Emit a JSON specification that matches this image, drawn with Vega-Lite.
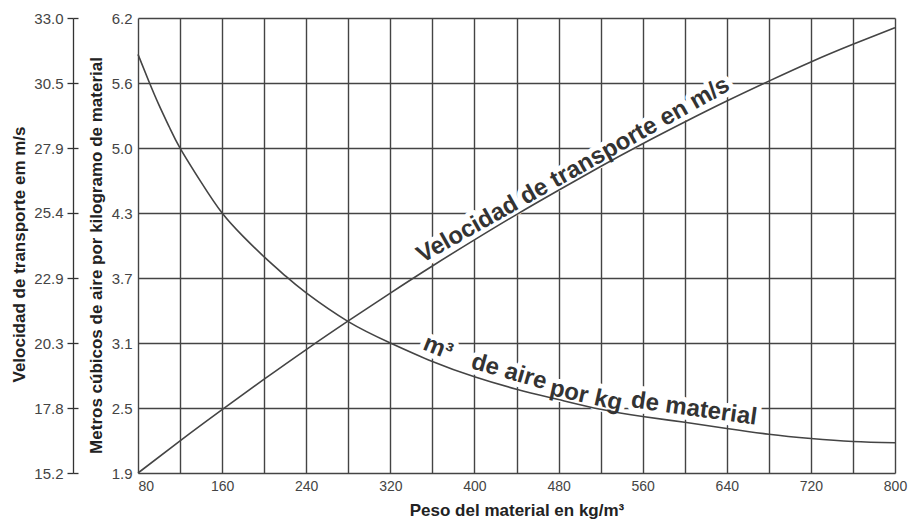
{
  "$schema": "https://vega.github.io/schema/vega-lite/v6.json",
  "width": 757,
  "height": 455,
  "autosize": "none",
  "padding": {"left": 138, "top": 18, "right": 15, "bottom": 47},
  "background": "white",
  "config": {"view": {"stroke": null}, "font": "Liberation Sans"},
  "datasets": {
    "aire": [
      {"peso": 80, "aire": 5.856}, {"peso": 90, "aire": 5.61}, {"peso": 100, "aire": 5.377},
      {"peso": 110, "aire": 5.165}, {"peso": 120, "aire": 4.971}, {"peso": 140, "aire": 4.649},
      {"peso": 160, "aire": 4.357}, {"peso": 180, "aire": 4.136}, {"peso": 200, "aire": 3.942},
      {"peso": 220, "aire": 3.764}, {"peso": 240, "aire": 3.602}, {"peso": 280, "aire": 3.331},
      {"peso": 320, "aire": 3.129}, {"peso": 360, "aire": 2.954}, {"peso": 400, "aire": 2.809},
      {"peso": 440, "aire": 2.692}, {"peso": 480, "aire": 2.594}, {"peso": 520, "aire": 2.502},
      {"peso": 560, "aire": 2.434}, {"peso": 600, "aire": 2.379}, {"peso": 640, "aire": 2.321},
      {"peso": 680, "aire": 2.266}, {"peso": 720, "aire": 2.226}, {"peso": 760, "aire": 2.198},
      {"peso": 800, "aire": 2.186}
    ],
    "velocidad": [
      {"peso": 80, "velocidad": 15.2}, {"peso": 120, "velocidad": 16.46}, {"peso": 160, "velocidad": 17.68},
      {"peso": 200, "velocidad": 18.87}, {"peso": 240, "velocidad": 20.03}, {"peso": 280, "velocidad": 21.15},
      {"peso": 320, "velocidad": 22.24}, {"peso": 360, "velocidad": 23.3}, {"peso": 400, "velocidad": 24.32},
      {"peso": 440, "velocidad": 25.31}, {"peso": 480, "velocidad": 26.26}, {"peso": 520, "velocidad": 27.19},
      {"peso": 560, "velocidad": 28.08}, {"peso": 600, "velocidad": 28.93}, {"peso": 640, "velocidad": 29.75},
      {"peso": 680, "velocidad": 30.53}, {"peso": 720, "velocidad": 31.28}, {"peso": 760, "velocidad": 31.97},
      {"peso": 800, "velocidad": 32.62}
    ],
    "etiquetasAire": [
      {"texto": "m³", "peso": 365.3, "aire": 3.081},
      {"texto": "de aire", "peso": 432.9, "aire": 2.855},
      {"texto": "por kg", "peso": 506.1, "aire": 2.628},
      {"texto": "de material", "peso": 608.8, "aire": 2.505}
    ],
    "etiquetaVel": [
      {"texto": "Velocidad de transporte en m/s", "peso": 494, "velocidad": 27.05}
    ]
  },
  "layer": [
    {
      "layer": [
        {
          "data": {"name": "etiquetasAire"},
          "transform": [{"filter": "datum.texto == 'm³'"}],
          "mark": {"type": "text", "angle": 22, "fontSize": 24, "fontWeight": "bold", "color": "white", "stroke": "white", "strokeWidth": 10, "strokeJoin": "round", "align": "center", "baseline": "middle"},
          "encoding": {
            "x": {"field": "peso", "type": "quantitative"},
            "y": {"field": "aire", "type": "quantitative"},
            "text": {"field": "texto"}
          }
        },
        {
          "data": {"name": "etiquetasAire"},
          "transform": [{"filter": "datum.texto == 'de aire'"}],
          "mark": {"type": "text", "angle": 16, "fontSize": 24, "fontWeight": "bold", "color": "white", "stroke": "white", "strokeWidth": 10, "strokeJoin": "round", "align": "center", "baseline": "middle"},
          "encoding": {
            "x": {"field": "peso", "type": "quantitative"},
            "y": {"field": "aire", "type": "quantitative"},
            "text": {"field": "texto"}
          }
        },
        {
          "data": {"name": "etiquetasAire"},
          "transform": [{"filter": "datum.texto == 'por kg'"}],
          "mark": {"type": "text", "angle": 12.5, "fontSize": 24, "fontWeight": "bold", "color": "white", "stroke": "white", "strokeWidth": 10, "strokeJoin": "round", "align": "center", "baseline": "middle"},
          "encoding": {
            "x": {"field": "peso", "type": "quantitative"},
            "y": {"field": "aire", "type": "quantitative"},
            "text": {"field": "texto"}
          }
        },
        {
          "data": {"name": "etiquetasAire"},
          "transform": [{"filter": "datum.texto == 'de material'"}],
          "mark": {"type": "text", "angle": 8, "fontSize": 24, "fontWeight": "bold", "color": "white", "stroke": "white", "strokeWidth": 10, "strokeJoin": "round", "align": "center", "baseline": "middle"},
          "encoding": {
            "x": {"field": "peso", "type": "quantitative"},
            "y": {"field": "aire", "type": "quantitative"},
            "text": {"field": "texto"}
          }
        },
        {
          "data": {"name": "aire"},
          "mark": {"type": "line", "color": "#444", "strokeWidth": 1.6, "interpolate": "natural"},
          "encoding": {
            "x": {
              "field": "peso", "type": "quantitative",
              "scale": {"domain": [80, 800], "nice": false, "zero": false},
              "axis": {
                "values": [80, 120, 160, 200, 240, 280, 320, 360, 400, 440, 480, 520, 560, 600, 640, 680, 720, 760, 800],
                "grid": true, "gridColor": "#444", "gridWidth": 1.4, "gridOpacity": 1,
                "labelExpr": "datum.value % 80 == 0 ? datum.label : ''",
                "ticks": false, "tickSize": 0, "domain": false,
                "labelFontSize": 14, "labelColor": "#444", "labelPadding": 6,
                "labelOverlap": false, "labelFlush": false,
                "labelAlign": {"condition": {"test": "datum.value == 80", "value": "left"}, "value": "center"},
                "title": "Peso del material en kg/m³", "titleFontSize": 17, "titleFontWeight": "bold",
                "titleColor": "#222", "titlePadding": 9
              }
            },
            "y": {
              "field": "aire", "type": "quantitative",
              "scale": {"domain": [1.9, 6.2], "nice": false, "zero": false},
              "axis": {
                "orient": "left",
                "values": [1.9, 2.207142857, 2.514285714, 2.821428571, 3.128571429, 3.435714286, 3.742857143, 4.05, 4.357142857, 4.664285714, 4.971428571, 5.278571429, 5.585714286, 5.892857143, 6.2],
                "grid": true, "gridColor": "#444", "gridWidth": 1.4, "gridOpacity": 1,
                "labelExpr": "['1.9','','2.5','','3.1','','3.7','','4.3','','5.0','','5.6','','6.2'][round((datum.value-1.9)/0.307142857)]",
                "ticks": false, "tickSize": 0, "domain": false,
                "labelFontSize": 15, "labelColor": "#444", "labelPadding": 6,
                "labelOverlap": false, "labelFlush": false,
                "title": "Metros cúbicos de aire por kilogramo de material", "titleFontSize": 17,
                "titleFontWeight": "bold", "titleColor": "#222", "titlePadding": 6, "titleY": 237
              }
            }
          }
        },
        {
          "data": {"name": "etiquetasAire"},
          "transform": [{"filter": "datum.texto == 'm³'"}],
          "mark": {"type": "text", "angle": 22, "fontSize": 24, "fontWeight": "bold", "color": "#333", "align": "center", "baseline": "middle"},
          "encoding": {
            "x": {"field": "peso", "type": "quantitative"},
            "y": {"field": "aire", "type": "quantitative"},
            "text": {"field": "texto"}
          }
        },
        {
          "data": {"name": "etiquetasAire"},
          "transform": [{"filter": "datum.texto == 'de aire'"}],
          "mark": {"type": "text", "angle": 16, "fontSize": 24, "fontWeight": "bold", "color": "#333", "align": "center", "baseline": "middle"},
          "encoding": {
            "x": {"field": "peso", "type": "quantitative"},
            "y": {"field": "aire", "type": "quantitative"},
            "text": {"field": "texto"}
          }
        },
        {
          "data": {"name": "etiquetasAire"},
          "transform": [{"filter": "datum.texto == 'por kg'"}],
          "mark": {"type": "text", "angle": 12.5, "fontSize": 24, "fontWeight": "bold", "color": "#333", "align": "center", "baseline": "middle"},
          "encoding": {
            "x": {"field": "peso", "type": "quantitative"},
            "y": {"field": "aire", "type": "quantitative"},
            "text": {"field": "texto"}
          }
        },
        {
          "data": {"name": "etiquetasAire"},
          "transform": [{"filter": "datum.texto == 'de material'"}],
          "mark": {"type": "text", "angle": 8, "fontSize": 24, "fontWeight": "bold", "color": "#333", "align": "center", "baseline": "middle"},
          "encoding": {
            "x": {"field": "peso", "type": "quantitative"},
            "y": {"field": "aire", "type": "quantitative"},
            "text": {"field": "texto"}
          }
        }
      ]
    },
    {
      "layer": [
        {
          "data": {"name": "etiquetaVel"},
          "mark": {"type": "text", "angle": -29.4, "fontSize": 24, "fontWeight": "bold", "color": "white", "stroke": "white", "strokeWidth": 10, "strokeJoin": "round", "align": "center", "baseline": "middle"},
          "encoding": {
            "x": {"field": "peso", "type": "quantitative"},
            "y": {"field": "velocidad", "type": "quantitative"},
            "text": {"field": "texto"}
          }
        },
        {
          "data": {"name": "velocidad"},
          "mark": {"type": "line", "color": "#444", "strokeWidth": 1.6, "interpolate": "natural"},
          "encoding": {
            "x": {"field": "peso", "type": "quantitative"},
            "y": {
              "field": "velocidad", "type": "quantitative",
              "scale": {"domain": [15.2, 33.0], "nice": false, "zero": false},
              "axis": {
                "orient": "left", "offset": 65,
                "values": [15.2, 17.742857, 20.285714, 22.828571, 25.371429, 27.914286, 30.457143, 33.0],
                "grid": false,
                "labelExpr": "['15.2','17.8','20.3','22.9','25.4','27.9','30.5','33.0'][round((datum.value-15.2)/2.542857)]",
                "ticks": true, "tickSize": 6, "tickColor": "#333", "tickWidth": 1.3,
                "domain": true, "domainColor": "#333", "domainWidth": 1.3,
                "labelFontSize": 15, "labelColor": "#444", "labelPadding": 4,
                "labelOverlap": false, "labelFlush": false,
                "title": "Velocidad de transporte em m/s", "titleFontSize": 17,
                "titleFontWeight": "bold", "titleColor": "#222", "titlePadding": 5, "titleY": 236
              }
            }
          }
        },
        {
          "data": {"name": "etiquetaVel"},
          "mark": {"type": "text", "angle": -29.4, "fontSize": 24, "fontWeight": "bold", "color": "#333", "align": "center", "baseline": "middle"},
          "encoding": {
            "x": {"field": "peso", "type": "quantitative"},
            "y": {"field": "velocidad", "type": "quantitative"},
            "text": {"field": "texto"}
          }
        }
      ]
    },
    {
      "data": {"name": "velocidad"},
      "mark": {"type": "line", "strokeOpacity": 0},
      "encoding": {
        "x": {"field": "peso", "type": "quantitative"},
        "y": {
          "field": "velocidad", "type": "quantitative",
          "scale": {"domain": [15.2, 33.0], "nice": false, "zero": false},
          "axis": {
            "orient": "left", "offset": 60,
            "values": [15.2, 17.742857, 20.285714, 22.828571, 25.371429, 27.914286, 30.457143, 33.0],
            "grid": false, "labels": false, "domain": false, "title": null,
            "ticks": true, "tickSize": 5, "tickColor": "#333", "tickWidth": 1.3
          }
        }
      }
    }
  ],
  "resolve": {"scale": {"y": "independent"}, "axis": {"y": "independent"}}
}
